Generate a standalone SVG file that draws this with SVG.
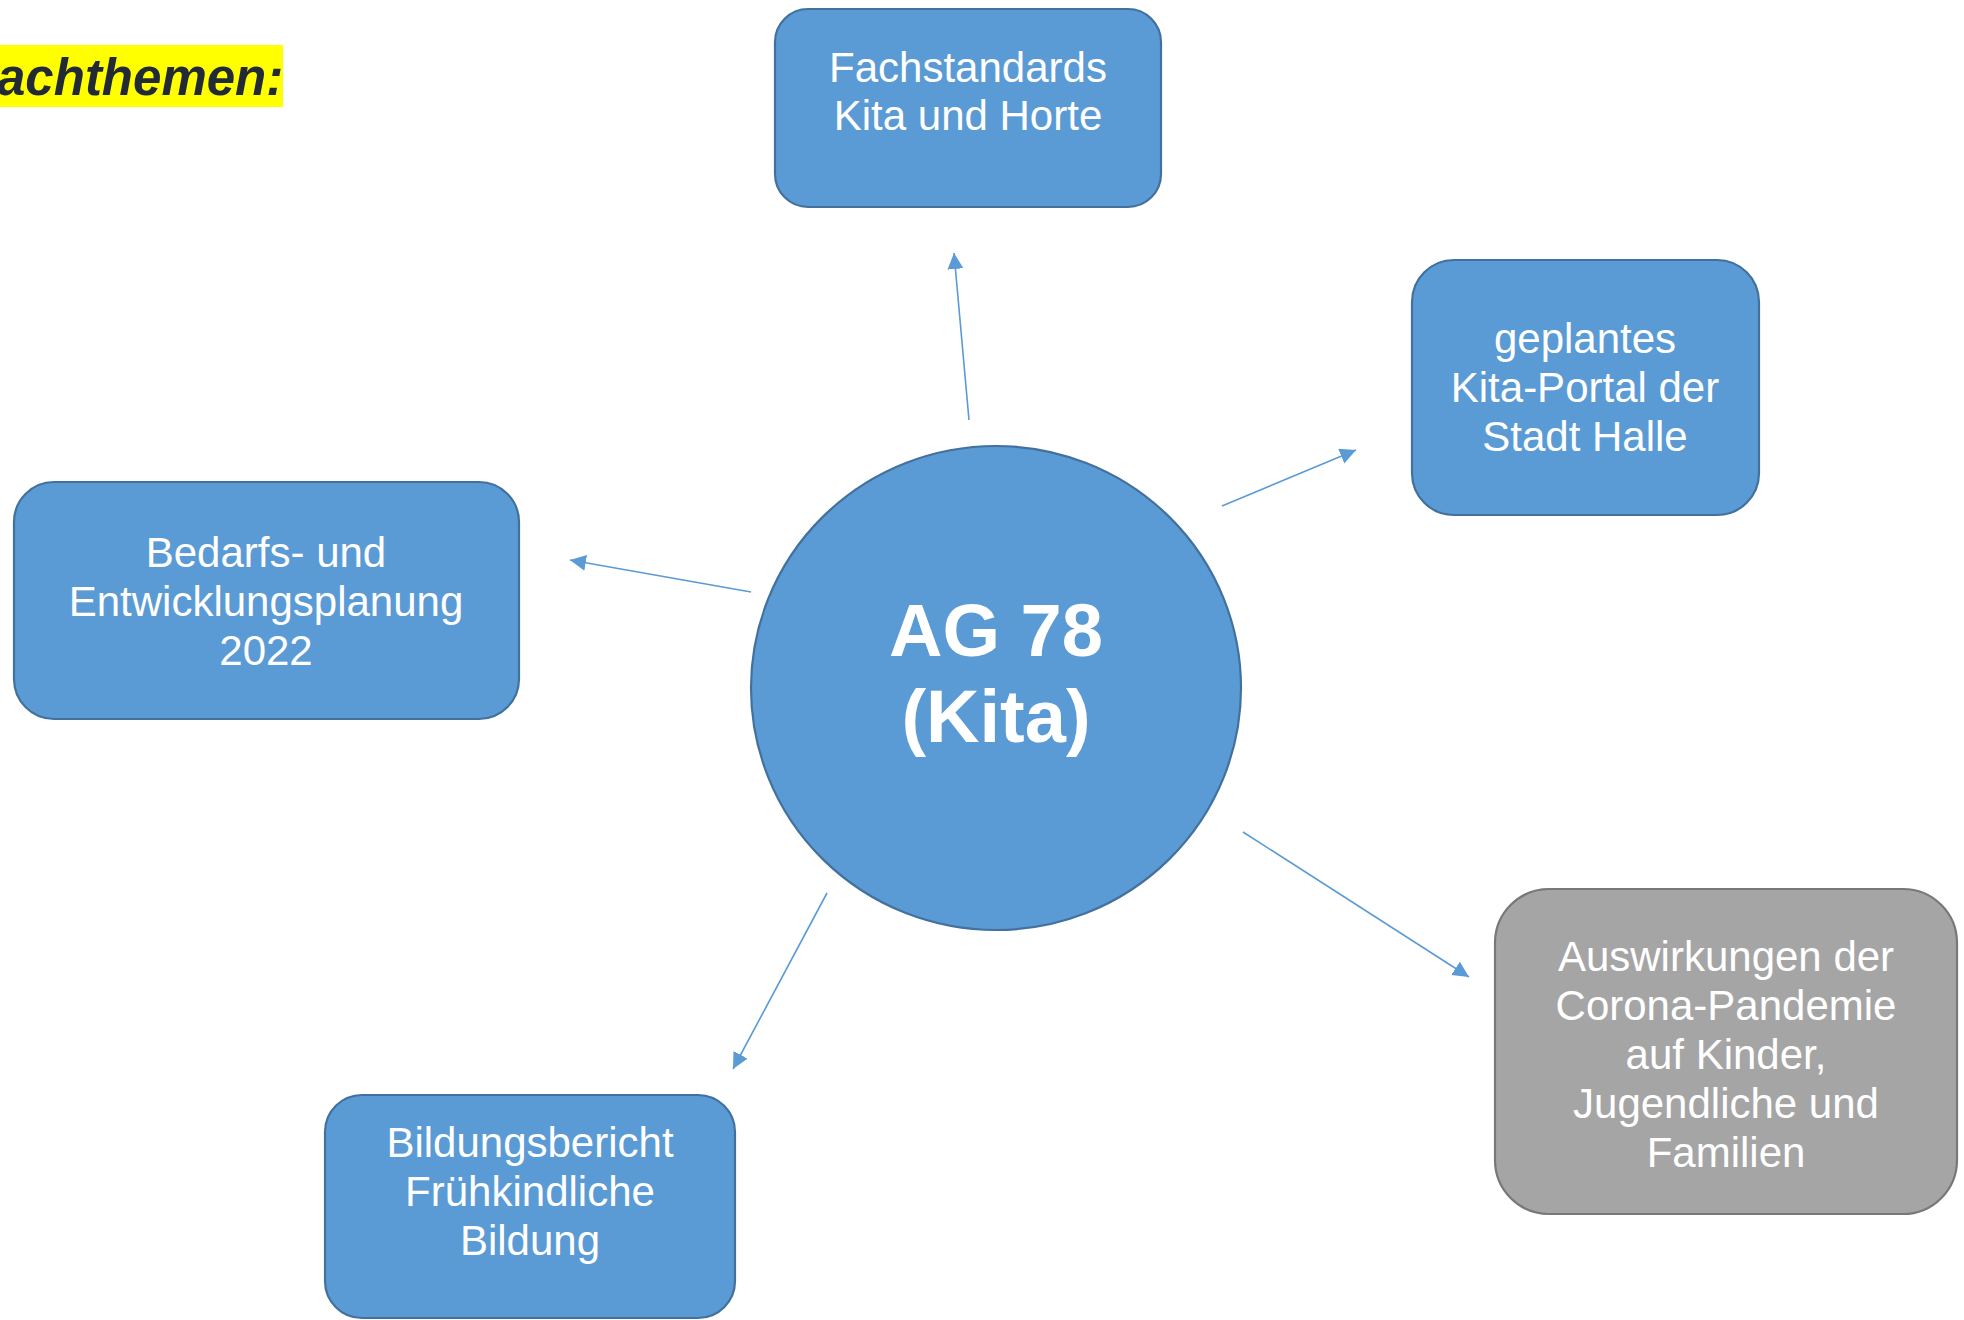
<svg xmlns="http://www.w3.org/2000/svg" width="1964" height="1320" viewBox="0 0 1964 1320">
<defs>
<marker id="arr" markerUnits="userSpaceOnUse" markerWidth="18" markerHeight="18" refX="16" refY="8" orient="auto">
<path d="M0,0 L16,8 L0,16 Z" fill="#5B9BD5"/>
</marker>
<style>
.box{fill:#5B9BD5;stroke:#41719C;stroke-width:2.2}
.gbox{fill:#A5A5A5;stroke:#787878;stroke-width:2.2}
.t{font-family:"Liberation Sans",Arial,sans-serif;font-size:42px;fill:#FFFFFF;text-anchor:middle}
.big{font-family:"Liberation Sans",Arial,sans-serif;font-size:74px;font-weight:bold;fill:#FFFFFF;text-anchor:middle}
.con{stroke:#5B9BD5;stroke-width:1.6;fill:none;marker-end:url(#arr)}
</style>
</defs>
<rect width="1964" height="1320" fill="#FFFFFF"/>
<g id="title">
<rect x="0" y="45" width="283" height="62" fill="#FFFF00"/>
<text x="-3" y="95" font-family="'Liberation Sans',Arial,sans-serif" font-size="51" font-weight="bold" font-style="italic" fill="#222A35">achthemen:</text>
</g>
<g id="connectors">
<line class="con" x1="969" y1="420" x2="954" y2="253"/>
<line class="con" x1="1222" y1="506" x2="1356" y2="450"/>
<line class="con" x1="751" y1="592" x2="570" y2="560"/>
<line class="con" x1="827" y1="893" x2="733" y2="1069"/>
<line class="con" x1="1243" y1="832" x2="1469" y2="977"/>
</g>
<g id="center">
<ellipse class="box" cx="996" cy="688" rx="245" ry="242"/>
<text class="big" x="996" y="656">AG 78</text>
<text class="big" x="996" y="742">(Kita)</text>
</g>
<g id="fachstandards">
<rect class="box" x="775" y="9" width="386" height="198" rx="33" ry="33"/>
<text class="t" x="968" y="82">Fachstandards</text>
<text class="t" x="968" y="130">Kita und Horte</text>
</g>
<g id="kitaportal">
<rect class="box" x="1412" y="260" width="347" height="255" rx="42" ry="42"/>
<text class="t" x="1585" y="353">geplantes</text>
<text class="t" x="1585" y="402">Kita-Portal der</text>
<text class="t" x="1585" y="451">Stadt Halle</text>
</g>
<g id="bedarfsplanung">
<rect class="box" x="14" y="482" width="505" height="237" rx="40" ry="40"/>
<text class="t" x="266" y="567">Bedarfs- und</text>
<text class="t" x="266" y="616">Entwicklungsplanung</text>
<text class="t" x="266" y="665">2022</text>
</g>
<g id="bildungsbericht">
<rect class="box" x="325" y="1095" width="410" height="223" rx="37" ry="37"/>
<text class="t" x="530" y="1157">Bildungsbericht</text>
<text class="t" x="530" y="1206">Frühkindliche</text>
<text class="t" x="530" y="1255">Bildung</text>
</g>
<g id="corona">
<rect class="gbox" x="1495" y="889" width="462" height="325" rx="54" ry="54"/>
<text class="t" x="1726" y="971">Auswirkungen der</text>
<text class="t" x="1726" y="1020">Corona-Pandemie</text>
<text class="t" x="1726" y="1069">auf Kinder,</text>
<text class="t" x="1726" y="1118">Jugendliche und</text>
<text class="t" x="1726" y="1167">Familien</text>
</g>
</svg>
